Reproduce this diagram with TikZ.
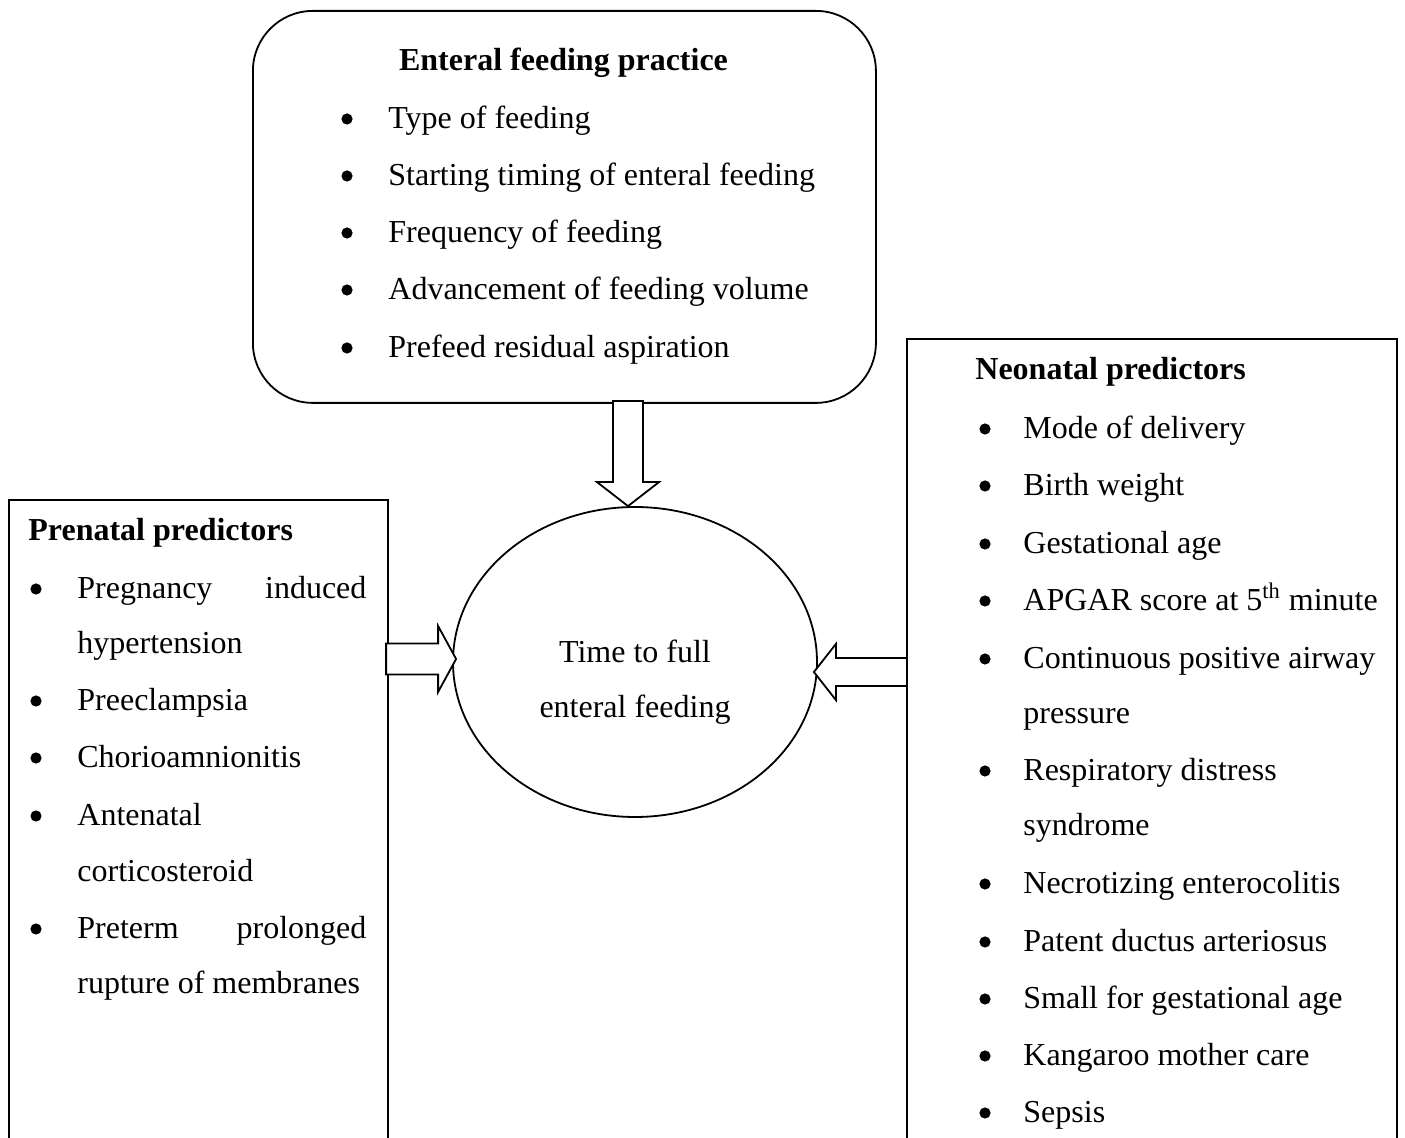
\documentclass[tikz,border=0pt]{standalone}
\usepackage{fontspec}
\setmainfont{Liberation Serif}
\usetikzlibrary{shapes.geometric,calc}
\begin{document}
\begin{tikzpicture}[x=0.5pt,y=-0.5pt,
  font=\fontsize{16pt}{19pt}\selectfont,
  boxline/.style={draw=black,line width=0.9pt},
  item/.style={anchor=base west,inner sep=0pt},
  bul/.style={circle,fill=black,inner sep=0pt,minimum size=5.6pt},
  ttl/.style={anchor=base west,inner sep=0pt,font=\fontsize{16pt}{19pt}\selectfont\bfseries},
  hollow/.style={draw=black,fill=white,line width=0.9pt,line join=miter}]
\path[use as bounding box] (0,0) rectangle (1405,1138);
\clip (0,0) rectangle (1405,1138);

% boxes
\node[boxline,rounded corners=30pt,minimum width=311.5pt,minimum height=196pt,anchor=north west,inner sep=0pt] (feed) at (252,10) {};
\node[boxline,minimum width=189.5pt,minimum height=400pt,anchor=north west,inner sep=0pt] (pre) at (8,499) {};
\node[boxline,minimum width=245pt,minimum height=450pt,anchor=north west,inner sep=0pt] (neo) at (906,338) {};
\node[boxline,ellipse,minimum width=182pt,minimum height=155pt,inner sep=0pt] (time) at (635,662) {};

% ellipse text
\node[anchor=base,inner sep=0pt] (tt1) at (635,663) {Time to full};
\node[anchor=base,inner sep=0pt] (tt2) at (635,718) {enteral feeding};

% top box text
\node[ttl,anchor=base] (feedttl) at (563.5,71) {Enteral feeding practice};
\foreach \yy/\tx [count=\i] in {129/Type of feeding,186/Starting timing of enteral feeding,243/Frequency of feeding,300/Advancement of feeding volume,358/Prefeed residual aspiration}{
  \node[bul] (fb\i) at (347,\yy-10) {};
  \node[item] (ft\i) at (388,\yy) {\tx};
}

% left box text
\node[ttl] (prettl) at (28,541) {Prenatal predictors};
\foreach \yy [count=\i] in {599,711,768,826,939}{
  \node[bul] (pb\i) at (36,\yy-10) {};
}
\node[item] (pt1) at (77,599) {\makebox[144.5pt][l]{Pregnancy\hfill induced}};
\node[item] (pt2) at (77,654) {hypertension};
\node[item] (pt3) at (77,711) {Preeclampsia};
\node[item] (pt4) at (77,768) {Chorioamnionitis};
\node[item] (pt5) at (77,826) {Antenatal};
\node[item] (pt6) at (77,882) {corticosteroid};
\node[item] (pt7) at (77,939) {\makebox[144.5pt][l]{Preterm\hfill prolonged}};
\node[item] (pt8) at (77,994) {rupture of membranes};

% right box text
\node[ttl] (neottl) at (975,380) {Neonatal predictors};
\foreach \yy/\tx [count=\i] in {439/Mode of delivery,496/Birth weight,554/Gestational age,611/{APGAR score at 5\textsuperscript{th} minute},669/Continuous positive airway,781/Respiratory distress,894/Necrotizing enterocolitis,952/Patent ductus arteriosus,1009/Small for gestational age,1066/Kangaroo mother care,1123/Sepsis}{
  \node[bul] (nb\i) at (985,\yy-10) {};
  \node[item] (nt\i) at (1023,\yy) {\tx};
}
\node[item] (nc1) at (1023,724) {pressure};
\node[item] (nc2) at (1023,836) {syndrome};

% block arrows
\coordinate (dtip) at ($(time.north)+(-7,0)$);
\draw[hollow] (dtip) -- ++(-31,-24) -- ++(16,0) -- ++(0,-81) -- ++(30,0) -- ++(0,81) -- ++(16,0) -- cycle;
\coordinate (ltip) at ($(time.west)+(4,-3)$);
\draw[hollow] (ltip) -- ++(-18,-33) -- ++(0,17.5) -- ++(-52,0) -- ++(0,31) -- ++(52,0) -- ++(0,17.5) -- cycle;
\coordinate (rtip) at ($(time.east)+(-4,10)$);
\draw[hollow] (rtip) -- ++(22,-28) -- ++(0,14) -- ++(71,0) -- ++(0,28) -- ++(-71,0) -- ++(0,14) -- cycle;
\end{tikzpicture}
\end{document}
